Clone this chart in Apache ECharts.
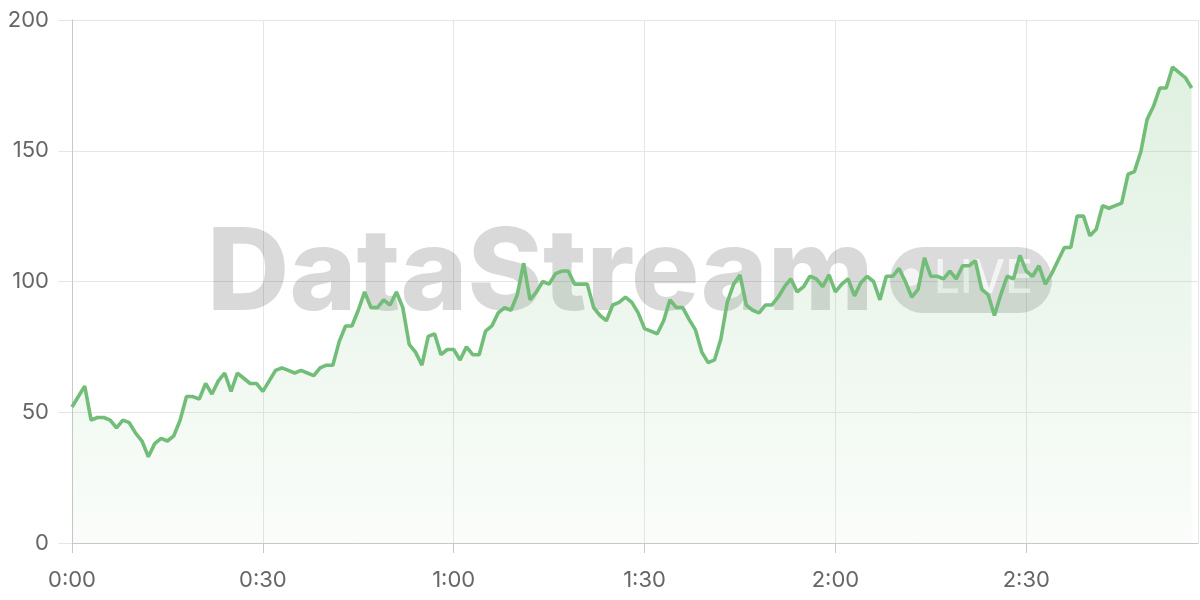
<!DOCTYPE html>
<html>
<head>
<meta charset="utf-8">
<script src="https://cdn.jsdelivr.net/npm/echarts@6/dist/echarts.min.js"></script>
<style>
html,body{margin:0;padding:0;background:#fff;}
#chart{width:1200px;height:600px;}
</style>
</head>
<body>
<div id="chart"></div>
<script>
// minutes since start (one point per minute)
const values = [
  52,56,60,47,48,48,47,44,47,46,
  42,39,33,38,40,39,41,47,56,56,
  55,61,57,62,65,58,65,63,61,61,
  58,62,66,67,66,65,66,65,64,67,
  68,68,77,83,83,89,96,90,90,93,
  91,96,90,76,73,68,79,80,72,74,
  74,70,75,72,72,81,83,88,90,89,
  95,107,93,96,100,99,103,104,104,99,
  99,99,90,87,85,91,92,94,92,88,
  82,81,80,85,93,90,90,85.5,81.5,73,
  69,70,78,92,99,102.5,91,89,88,91,
  91,94,98,101,96,98,102,101,98,102.5,
  96,99,101,94.5,99.5,102,100,93,102,102,
  105,100,94,97,109,102,102,101,104,101,
  106,106,108,97,95,87,95,102,101,110,
  104,102,106,99,103,108,113,113,125,125,
  117.5,120,129,128,129,130,141,142,149.5,162,
  167,174,174,182,180,178,174
];
const yTicks = [0, 50, 100, 150, 200];
const xTickMinutes = [0, 30, 60, 90, 120, 150];
const watermarkText = 'DataStream';
const badgeText = 'LIVE';

const seriesData = values.map((v, i) => [i, v]);
function fmt(m) {
  const h = Math.floor(m / 60), mm = Math.round(m % 60);
  return h + ':' + (mm < 10 ? '0' : '') + mm;
}

const chart = echarts.init(document.getElementById('chart'), null, {renderer: 'canvas'});
chart.setOption({
  animation: false,
  backgroundColor: '#ffffff',
  grid: {left: 72, right: 2, top: 20, bottom: 57},
  xAxis: {
    type: 'value',
    min: 0, max: 177, interval: 30,
    axisLine: {show: true, lineStyle: {color: '#c8c8c8', width: 1}},
    axisTick: {show: true, length: 10, lineStyle: {color: '#c8c8c8'}},
    splitLine: {show: true, lineStyle: {color: '#e6e6e6', width: 1}},
    axisLabel: {
      color: '#666666', fontSize: 22, fontFamily: 'Inter', margin: 26,
      showMaxLabel: false,
      formatter: v => xTickMinutes.indexOf(v) >= 0 ? fmt(v) : ''
    }
  },
  yAxis: {
    type: 'value',
    min: yTicks[0], max: yTicks[yTicks.length - 1], interval: 50,
    axisLine: {show: true, lineStyle: {color: '#c8c8c8', width: 1}},
    axisTick: {show: true, length: 14, lineStyle: {color: '#e6e6e6'}},
    splitLine: {show: true, lineStyle: {color: '#e6e6e6', width: 1}},
    axisLabel: {color: '#666666', fontSize: 22, fontFamily: 'Inter', margin: 23}
  },
  graphic: [
    {
      type: 'text', z: 1, silent: true,
      left: 207, top: 219,
      style: {
        text: watermarkText,
        fill: 'rgba(0,0,0,0.15)',
        font: '800 114px Inter',
        textVerticalAlign: 'top'
      }
    },
    {
      type: 'rect', z: 1, silent: true,
      shape: {x: 890, y: 247, width: 162, height: 66, r: 33},
      style: {fill: 'rgba(0,0,0,0.14)'}
    },
    {
      type: 'circle', z: 1, silent: true,
      shape: {cx: 911, cy: 277, r: 9},
      style: {fill: 'rgba(255,255,255,0.7)'}
    },
    {
      type: 'text', z: 1, silent: true,
      left: 934, top: 256,
      style: {
        text: badgeText,
        fill: 'rgba(255,255,255,0.7)',
        font: '500 46px Inter'
      }
    }
  ],
  series: [{
    type: 'line',
    data: seriesData,
    showSymbol: false,
    z: 3,
    lineStyle: {color: '#72bd78', width: 3.6},
    itemStyle: {color: '#72bd78'},
    areaStyle: {
      color: new echarts.graphic.LinearGradient(0, 0, 0, 1, [
        {offset: 0, color: 'rgba(114,189,120,0.32)'},
        {offset: 1, color: 'rgba(114,189,120,0.05)'}
      ])
    }
  }]
});
</script>
</body>
</html>
